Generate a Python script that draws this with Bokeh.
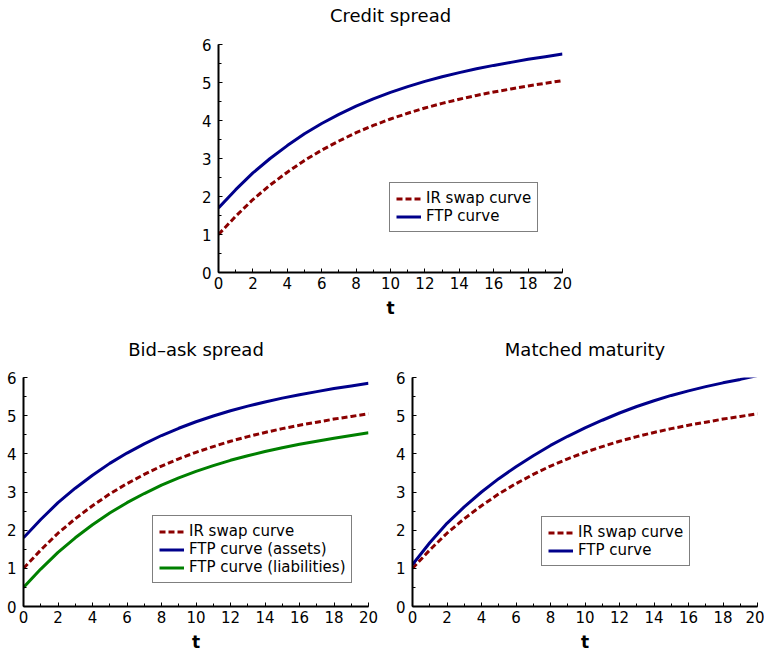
from bokeh.plotting import figure
from bokeh.layouts import column, row
from bokeh.models import (Range1d, Legend, LegendItem, SingleIntervalTicker,
                          LinearAxis, FixedTicker)
from bokeh.embed import file_html
from bokeh.resources import INLINE

# maturity grid (years)
t = list(range(21))

# interest-rate swap curve
ir_swap = [1.00, 1.48, 1.92, 2.30, 2.64, 2.95, 3.22, 3.46, 3.68, 3.87, 4.04,
           4.19, 4.33, 4.45, 4.56, 4.66, 4.75, 4.83, 4.91, 4.98, 5.05]

# FTP curve with a credit spread
ftp_credit = [1.70, 2.18, 2.62, 3.00, 3.34, 3.65, 3.92, 4.16, 4.38, 4.57, 4.74,
              4.89, 5.03, 5.15, 5.26, 5.36, 5.45, 5.53, 5.61, 5.68, 5.75]

# FTP curves with a bid-ask spread
ftp_assets = [1.80, 2.28, 2.72, 3.10, 3.44, 3.75, 4.02, 4.26, 4.48, 4.67, 4.84,
              4.99, 5.13, 5.25, 5.36, 5.46, 5.55, 5.63, 5.71, 5.78, 5.85]
ftp_liabilities = [0.50, 0.98, 1.42, 1.80, 2.14, 2.45, 2.72, 2.96, 3.18, 3.37, 3.54,
                   3.69, 3.83, 3.95, 4.06, 4.16, 4.25, 4.33, 4.41, 4.48, 4.55]

# FTP curve under matched maturity
ftp_matched = [1.10, 1.67, 2.18, 2.61, 3.00, 3.35, 3.66, 3.95, 4.22, 4.46, 4.68,
               4.88, 5.07, 5.24, 5.39, 5.53, 5.65, 5.76, 5.86, 5.95, 6.05]

FONT = "DejaVu Sans"
RED = "#8B0000"
BLUE = "#00008B"
GREEN = "#008000"


def panel(title, left, right, top, bottom, fw, fh, title_gap):
    p = figure(frame_width=fw, frame_height=fh,
               min_border_left=left, min_border_right=right,
               min_border_top=top, min_border_bottom=bottom,
               x_range=Range1d(0, 20), y_range=Range1d(0, 6),
               output_backend="svg", toolbar_location=None)
    p.outline_line_color = None
    p.grid.visible = False
    p.background_fill_color = "white"
    p.border_fill_color = "white"

    xax = p.below[0]
    yax = p.left[0]
    xax.ticker = SingleIntervalTicker(interval=2, num_minor_ticks=2)
    yax.ticker = SingleIntervalTicker(interval=1, num_minor_ticks=2)
    for ax in (xax, yax):
        ax.axis_line_width = 2
        ax.axis_line_color = "black"
        ax.major_tick_in = 4
        ax.major_tick_out = 0
        ax.minor_tick_in = 3
        ax.minor_tick_out = 0
        ax.major_tick_line_color = "black"
        ax.minor_tick_line_color = "black"
        ax.major_label_text_font = FONT
        ax.major_label_text_font_size = "15px"
        ax.major_label_text_color = "black"
    yax.major_label_standoff = 7
    xax.major_label_standoff = 4
    xax.axis_label = "t"
    xax.axis_label_text_font = FONT
    xax.axis_label_text_font_size = "17px"
    xax.axis_label_text_font_style = "bold"
    xax.axis_label_text_color = "black"
    xax.axis_label_standoff = 6

    # heading drawn as the label of a bare axis above the frame
    head = LinearAxis(ticker=FixedTicker(ticks=[]), axis_line_color=None,
                      major_tick_line_color=None, minor_tick_line_color=None,
                      major_label_text_font_size="0px",
                      major_tick_in=0, major_tick_out=0,
                      minor_tick_in=0, minor_tick_out=0,
                      major_label_standoff=0,
                      axis_label=title, axis_label_standoff=title_gap,
                      axis_label_text_font=FONT,
                      axis_label_text_font_size="18px",
                      axis_label_text_font_style="normal",
                      axis_label_text_color="black")
    p.add_layout(head, "above")
    return p


def add_legend(p, items, loc):
    leg = Legend(items=items, location=loc, margin=0, padding=6, spacing=0,
                 glyph_width=25, glyph_height=17, label_height=17,
                 label_standoff=5, border_line_color="black",
                 border_line_width=1, background_fill_color="white",
                 background_fill_alpha=1.0, label_text_font=FONT,
                 label_text_font_size="15px", label_text_color="black")
    p.add_layout(leg, "center")


def swap_line(p):
    return p.line(t, ir_swap, line_color=RED, line_width=3, line_dash="6 3")


# Credit spread
p1 = panel("Credit spread", 218, 202, 44, 48, 344, 228, 19)
r1 = swap_line(p1)
r2 = p1.line(t, ftp_credit, line_color=BLUE, line_width=3)
add_legend(p1, [LegendItem(label="IR swap curve", renderers=[r1]),
                LegendItem(label="FTP curve", renderers=[r2])], (171, 40))

# Bid-ask spread
p2 = panel("Bid\u2013ask spread", 23, 22, 57, 44, 345, 229, 18)
r1 = swap_line(p2)
r2 = p2.line(t, ftp_assets, line_color=BLUE, line_width=3)
r3 = p2.line(t, ftp_liabilities, line_color=GREEN, line_width=3)
add_legend(p2, [LegendItem(label="IR swap curve", renderers=[r1]),
                LegendItem(label="FTP curve (assets)", renderers=[r2]),
                LegendItem(label="FTP curve (liabilities)", renderers=[r3])],
           (129, 23))

# Matched maturity
p3 = panel("Matched maturity", 22, 7, 57, 44, 345, 229, 18)
r1 = swap_line(p3)
r2 = p3.line(t, ftp_matched, line_color=BLUE, line_width=3)
add_legend(p3, [LegendItem(label="IR swap curve", renderers=[r1]),
                LegendItem(label="FTP curve", renderers=[r2])], (129, 40))

layout = column(p1, row(p2, p3))

with open("out.html", "w") as f:
    f.write(file_html(layout, INLINE))
